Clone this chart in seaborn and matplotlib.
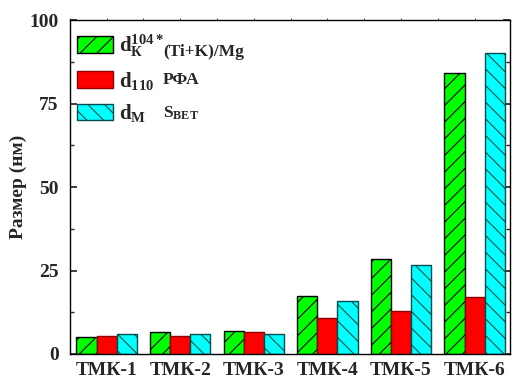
import matplotlib
matplotlib.use("Agg")
import matplotlib.pyplot as plt
import seaborn as sns
import pandas as pd
import numpy as np
from matplotlib.patches import Patch
from matplotlib.ticker import MultipleLocator

categories = ["ТМК-1", "ТМК-2", "ТМК-3", "ТМК-4", "ТМК-5", "ТМК-6"]
d_k = [5.0, 6.7, 7.0, 17.3, 28.3, 84.0]
d_110 = [5.3, 5.5, 6.5, 10.7, 12.8, 17.2]
d_m = [5.9, 5.9, 6.1, 15.8, 26.6, 90.0]
series = ["d_K", "d_110", "d_M"]
legend_labels = [r"$\mathrm{d}_{\mathrm{К}}^{\mathrm{104*}}$",
                 r"$\mathrm{d}_{\mathrm{110}}$",
                 r"$\mathrm{d}_{\mathrm{М}}$"]
legend_notes = ["(Ti+K)/Mg", "РФА", r"$\mathrm{S}_{\mathrm{BET}}$"]
yticks = [0, 25, 50, 75, 100]

sns.set_theme(style="ticks")
plt.rcParams['font.family'] = ['Liberation Serif', 'DejaVu Serif']
plt.rcParams['font.weight'] = 'bold'
plt.rcParams['mathtext.fontset'] = 'custom'
plt.rcParams['mathtext.rm'] = 'Liberation Serif:bold'
plt.rcParams['mathtext.it'] = 'Liberation Serif:bold'
plt.rcParams['mathtext.bf'] = 'Liberation Serif:bold'
plt.rcParams['hatch.linewidth'] = 0.8

df = pd.DataFrame({
    "cat": categories * 3,
    "val": d_k + d_110 + d_m,
    "ser": [series[0]] * 6 + [series[1]] * 6 + [series[2]] * 6,
})

face = ["#00ff00", "#ff0000", "#00ffff"]
edge = ["#000000", "#8b0000", "#004d4d"]
hatches = ["//", "", "\\\\"]

fig = plt.figure(figsize=(5.13, 3.78), dpi=100)
ax = fig.add_axes([0.136, 0.0635, 0.858, 0.8835])
sns.barplot(data=df, x="cat", y="val", hue="ser", palette=face, width=0.82,
            saturation=1, ax=ax, legend=False, linewidth=1)

for i, cont in enumerate(ax.containers):
    for p in cont:
        p.set_edgecolor(edge[i])
        p.set_hatch(hatches[i])
        p.set_linewidth(1)

ax.set_xlim(-0.5, 5.48)
ax.set_ylim(0, 100)
ax.set_yticks(yticks)
ax.yaxis.set_minor_locator(MultipleLocator(12.5))
ax.tick_params(axis='y', which='both', direction='in', right=True, left=True)
ax.tick_params(axis='y', which='major', length=5, labelsize=14, pad=8)
ax.tick_params(axis='y', which='minor', length=3)
ax.tick_params(axis='x', which='major', bottom=False, top=True, direction='out',
               length=1.5, width=0.6, labelsize=14, pad=4)
ax.xaxis.set_minor_locator(MultipleLocator(0.5))
ax.tick_params(axis='x', which='minor', bottom=False, top=True, direction='out',
               length=1.5, width=0.6)
for lab in ax.get_xticklabels() + ax.get_yticklabels():
    lab.set_fontweight('bold')
ax.set_xlabel("")
ax.set_ylabel("Размер (нм)", fontsize=14, fontweight='bold', labelpad=2)
for s in ax.spines.values():
    s.set_linewidth(1)
    s.set_color('black')

handles = [Patch(facecolor=face[i], edgecolor=edge[i], hatch=hatches[i]) for i in range(3)]
leg = ax.legend(handles, legend_labels, loc='upper left', frameon=False,
                fontsize=15, handlelength=1.73, handleheight=0.87,
                labelspacing=0.5, borderaxespad=0.0, borderpad=0.0,
                handletextpad=0.3, bbox_to_anchor=(0.016, 0.962))
for t in leg.get_texts():
    t.set_fontweight('bold')

note_y = [0.905, 0.821, 0.72]
for ny, note in zip(note_y, legend_notes):
    ax.text(0.212, ny, note, transform=ax.transAxes, fontsize=12.5,
            fontweight='bold', va='center', ha='left')

fig.savefig("out.png", dpi=100)
